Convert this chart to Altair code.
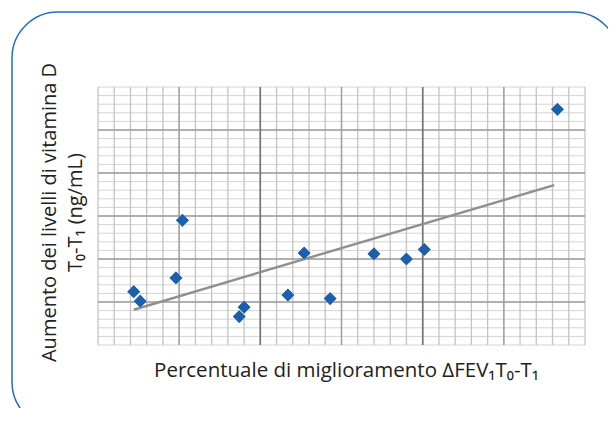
import altair as alt
import pandas as pd

# ---- data ----
x_vals = [2.2, 2.6, 4.8, 5.2, 8.7, 9.0, 11.7, 12.7, 14.3, 17.0, 19.0, 20.1, 28.3]
y_vals = [6.2, 5.1, 7.8, 14.5, 3.3, 4.4, 5.8, 10.7, 5.4, 10.6, 10.0, 11.1, 27.4]
trend_x = [2.2, 28.1]
trend_y = [4.1, 18.6]

minor_ticks = list(range(0, 31))
major_ticks = [5, 10, 15, 20, 25]
x_strong_ticks = [10, 20]

x_title = "Percentuale di miglioramento ΔFEV₁T₀-T₁"
y_title = ["Aumento dei livelli di vitamina D", "T₀-T₁ (ng/mL)"]

W, H = 487, 258
FONT = "Open Sans"

xs = alt.Scale(domain=[0, 30], nice=False, zero=False)
ys = alt.Scale(domain=[0, 30], nice=False, zero=False)


def vrules(vals, color, width):
    return alt.Chart(pd.DataFrame({"v": vals})).mark_rule(
        color=color, strokeWidth=width
    ).encode(x=alt.X("v:Q", scale=xs))


def hrules(vals, color, width):
    return alt.Chart(pd.DataFrame({"v": vals})).mark_rule(
        color=color, strokeWidth=width
    ).encode(y=alt.Y("v:Q", scale=ys))


trend = alt.Chart(pd.DataFrame({"x": trend_x, "y": trend_y})).mark_line(
    color="#8f8f8f", strokeWidth=2.4
).encode(
    x=alt.X("x:Q", scale=xs),
    y=alt.Y("y:Q", scale=ys),
)

points = alt.Chart(pd.DataFrame({"x": x_vals, "y": y_vals})).mark_point(
    shape="diamond", filled=True, size=160, color="#1b5fad", opacity=1
).encode(
    x=alt.X("x:Q", scale=xs,
            axis=alt.Axis(title=x_title, titlePadding=15, titleX=248,
                          titleFontSize=20.5)),
    y=alt.Y("y:Q", scale=ys,
            axis=alt.Axis(title=y_title, titlePadding=13, titleLineHeight=26,
                          titleFontSize=20, titleY=125)),
)

frame = alt.Chart(pd.DataFrame({"a": [0]})).mark_rect(
    fill="transparent", stroke="#1f6fc0", strokeWidth=1.5, cornerRadius=46
).encode(
    x=alt.value(-86), x2=alt.value(521), y=alt.value(-75), y2=alt.value(341)
)

chart = alt.layer(
    points,
    hrules(minor_ticks, "#d4d4d4", 1),
    vrules(minor_ticks, "#c4c4c4", 1.3),
    hrules(major_ticks, "#9c9c9c", 1.3),
    vrules(major_ticks, "#a0a0a0", 1.4),
    vrules(x_strong_ticks, "#737373", 1.5),
    trend,
    points,
    frame,
).properties(
    width=W, height=H,
    padding={"left": 90, "top": 79, "right": 23, "bottom": 63},
    autosize=alt.AutoSizeParams(type="none"),
    background="white",
).configure_view(stroke=None).configure_axis(
    grid=False, labels=False, ticks=False, domain=False,
    titleFont=FONT, titleFontWeight="normal", titleColor="#222222",
)

chart.save("out.html", embed_options={"renderer": "svg", "actions": False})
